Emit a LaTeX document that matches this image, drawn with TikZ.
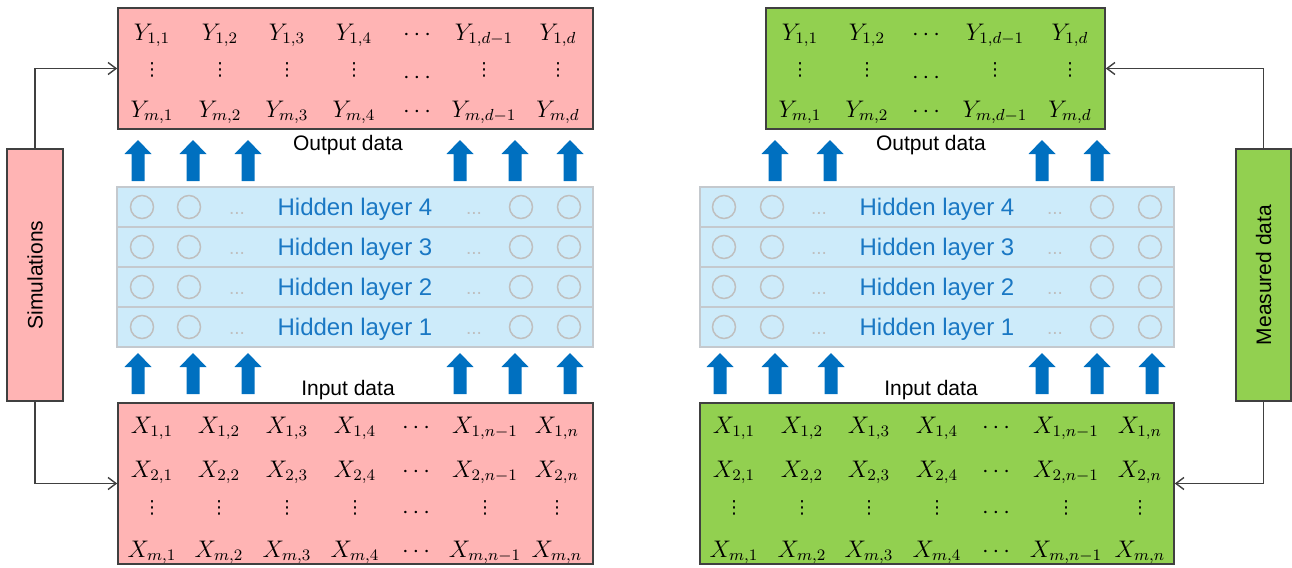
\documentclass[tikz,border=0pt]{standalone}
\usepackage[no-math]{fontspec}
\usepackage{amsmath}
\newfontfamily\labelfont{Liberation Sans}
\newfontfamily\dotfont{DejaVu Sans}
\usetikzlibrary{arrows.meta}

\definecolor{pinkfill}{HTML}{FFB4B4}
\definecolor{greenfill}{HTML}{92D050}
\definecolor{layerfill}{HTML}{CDEBFA}
\definecolor{layerline}{HTML}{C4C9CE}
\definecolor{arrowblue}{HTML}{0070C0}
\definecolor{layertext}{HTML}{1A78C4}
\definecolor{neurongray}{HTML}{BFBFBF}
\definecolor{edgegray}{HTML}{404040}

\tikzset{
  databox/.style={draw=edgegray, line width=0.8pt, inner sep=0pt},
  sidebox/.style={draw=edgegray, line width=0.8pt, inner sep=0pt,
    minimum height=126pt},
  sidelabel/.style={font=\labelfont\fontsize{10.5}{12}\selectfont, inner sep=0pt},
  cell/.style={anchor=base, inner sep=0pt, font=\fontsize{12}{14}\selectfont},
  vcell/.style={anchor=center, inner sep=0pt, font=\dotfont\fontsize{9}{10}\selectfont},
  layerrow/.style={draw=layerline, fill=layerfill, line width=0.8pt,
    minimum width=238pt, minimum height=20pt, inner sep=0pt},
  layerlabel/.style={anchor=base, inner sep=0pt, text=layertext,
    font=\labelfont\fontsize{12}{14}\selectfont},
  neuron/.style={circle, draw=neurongray, line width=0.75pt,
    minimum size=11.5pt, inner sep=0pt},
  hdots/.style={anchor=base, inner sep=0pt, text=neurongray,
    font=\labelfont\fontsize{9.5}{10}\selectfont},
  datalabel/.style={anchor=base, inner sep=0pt,
    font=\labelfont\fontsize{10.5}{12}\selectfont},
  conn/.style={draw=edgegray, line width=0.7pt,
    -{Straight Barb[length=4pt,width=6pt]}},
  blockup/.pic={
    \fill[arrowblue] (-6.5,0) -- (-6.5,-27) -- (-13.5,-27) -- (0,-41)
      -- (13.5,-27) -- (6.5,-27) -- (6.5,0) -- cycle;
  }
}

\begin{document}
\begin{tikzpicture}[x=0.5pt,y=-0.5pt]
\useasboundingbox (0,0) rectangle (1292,568);

% ---------------- left network: simulations ----------------
\node[sidebox, fill=pinkfill, minimum width=28pt] (sim) at (35,275) {};
\node[sidelabel, rotate=90] (simlabel) at (sim.center) {Simulations};

\node[databox, fill=pinkfill, minimum width=237.5pt, minimum height=60.5pt]
  (ysim) at (355.5,68.5) {};
\node[databox, fill=pinkfill, minimum width=237.5pt, minimum height=80.5pt]
  (xsim) at (355.5,483.5) {};

\draw[conn] (sim.north) |- (ysim.west);
\draw[conn] (sim.south) |- (xsim.west);

% output matrix
\foreach \cx/\txt [count=\i] in
  {152/{Y_{1,1}},220/{Y_{1,2}},287/{Y_{1,3}},354/{Y_{1,4}},
   419/{\cdots},484/{Y_{1,d-1}},558/{Y_{1,d}}}
  \node[cell] (ysa\i) at (\cx,40) {$\txt$};
\foreach \cx [count=\i] in {152,220,287,354,484,558}
  \node[vcell] (ysb\i) at (\cx,70) {⋮};
\node[cell] (ysbdots) at (419,83) {$\cdots$};
\foreach \cx/\txt [count=\i] in
  {152/{Y_{m,1}},220/{Y_{m,2}},287/{Y_{m,3}},354/{Y_{m,4}},
   419/{\cdots},484/{Y_{m,d-1}},558/{Y_{m,d}}}
  \node[cell] (ysc\i) at (\cx,117) {$\txt$};

% input matrix
\foreach \cx/\txt [count=\i] in
  {152/{X_{1,1}},219/{X_{1,2}},287/{X_{1,3}},355/{X_{1,4}},
   418/{\cdots},485/{X_{1,n-1}},557/{X_{1,n}}}
  \node[cell] (xsa\i) at (\cx,433) {$\txt$};
\foreach \cx/\txt [count=\i] in
  {152/{X_{2,1}},219/{X_{2,2}},287/{X_{2,3}},355/{X_{2,4}},
   418/{\cdots},485/{X_{2,n-1}},557/{X_{2,n}}}
  \node[cell] (xsb\i) at (\cx,477) {$\txt$};
\foreach \cx [count=\i] in {152,219,287,355,485,557}
  \node[vcell] (xsc\i) at (\cx,508) {⋮};
\node[cell] (xscdots) at (418,518) {$\cdots$};
\foreach \cx/\txt [count=\i] in
  {152/{X_{m,1}},219/{X_{m,2}},287/{X_{m,3}},355/{X_{m,4}},
   418/{\cdots},485/{X_{m,n-1}},557/{X_{m,n}}}
  \node[cell] (xsd\i) at (\cx,557) {$\txt$};

% hidden layers
\foreach \k/\cy in {4/207,3/247,2/287,1/327} {
  \node[layerrow] (lrow\k) at (355,\cy) {};
  \node[neuron] (ln\k a) at (142,\cy) {};
  \node[neuron] (ln\k b) at (189,\cy) {};
  \node[hdots] (ld\k a) at (237,\cy+7) {...};
  \node[layerlabel] (ll\k) at (355,\cy+8) {Hidden layer \k};
  \node[hdots] (ld\k b) at (474,\cy+7) {...};
  \node[neuron] (ln\k c) at (521,\cy) {};
  \node[neuron] (ln\k d) at (569,\cy) {};
}

\node[datalabel] (lout) at (348,150) {Output data};
\node[datalabel] (lin) at (348,395) {Input data};

\foreach \ax in {138,193,248,460,515,570} {
  \pic at (\ax,181) {blockup};
  \pic at (\ax,394) {blockup};
}

% ---------------- right network: measured data ----------------
\node[sidebox, fill=greenfill, minimum width=27.5pt] (meas) at (1263.5,275) {};
\node[sidelabel, rotate=90] (measlabel) at (meas.center) {Measured data};

\node[databox, fill=greenfill, minimum width=169.5pt, minimum height=60.5pt]
  (ymeas) at (935.5,68.5) {};
\node[databox, fill=greenfill, minimum width=237pt, minimum height=80.5pt]
  (xmeas) at (937,483.5) {};

\draw[conn] (meas.north) |- (ymeas.east);
\draw[conn] (meas.south) |- (xmeas.east);

% output matrix
\foreach \cx/\txt [count=\i] in
  {800/{Y_{1,1}},867/{Y_{1,2}},928/{\cdots},995/{Y_{1,d-1}},1070/{Y_{1,d}}}
  \node[cell] (yma\i) at (\cx,40) {$\txt$};
\foreach \cx [count=\i] in {800,867,995,1070}
  \node[vcell] (ymb\i) at (\cx,70) {⋮};
\node[cell] (ymbdots) at (928,83) {$\cdots$};
\foreach \cx/\txt [count=\i] in
  {800/{Y_{m,1}},867/{Y_{m,2}},928/{\cdots},995/{Y_{m,d-1}},1070/{Y_{m,d}}}
  \node[cell] (ymc\i) at (\cx,117) {$\txt$};

% input matrix
\foreach \cx/\txt [count=\i] in
  {734/{X_{1,1}},802/{X_{1,2}},869/{X_{1,3}},937/{X_{1,4}},
   998/{\cdots},1066/{X_{1,n-1}},1140/{X_{1,n}}}
  \node[cell] (xma\i) at (\cx,433) {$\txt$};
\foreach \cx/\txt [count=\i] in
  {734/{X_{2,1}},802/{X_{2,2}},869/{X_{2,3}},937/{X_{2,4}},
   998/{\cdots},1066/{X_{2,n-1}},1140/{X_{2,n}}}
  \node[cell] (xmb\i) at (\cx,477) {$\txt$};
\foreach \cx [count=\i] in {734,802,869,937,1066,1140}
  \node[vcell] (xmc\i) at (\cx,508) {⋮};
\node[cell] (xmcdots) at (998,518) {$\cdots$};
\foreach \cx/\txt [count=\i] in
  {734/{X_{m,1}},802/{X_{m,2}},869/{X_{m,3}},937/{X_{m,4}},
   998/{\cdots},1066/{X_{m,n-1}},1140/{X_{m,n}}}
  \node[cell] (xmd\i) at (\cx,557) {$\txt$};

% hidden layers
\foreach \k/\cy in {4/207,3/247,2/287,1/327} {
  \node[layerrow, minimum width=237pt] (rrow\k) at (937,\cy) {};
  \node[neuron] (rn\k a) at (724,\cy) {};
  \node[neuron] (rn\k b) at (772,\cy) {};
  \node[hdots] (rd\k a) at (819,\cy+7) {...};
  \node[layerlabel] (rl\k) at (937,\cy+8) {Hidden layer \k};
  \node[hdots] (rd\k b) at (1055,\cy+7) {...};
  \node[neuron] (rn\k c) at (1102,\cy) {};
  \node[neuron] (rn\k d) at (1150,\cy) {};
}

\node[datalabel] (rout) at (931,150) {Output data};
\node[datalabel] (rin) at (931,395) {Input data};

\foreach \ax in {775,830,1042,1097}
  \pic at (\ax,181) {blockup};
\foreach \ax in {720,775,831,1042,1097,1152}
  \pic at (\ax,394) {blockup};

\end{tikzpicture}
\end{document}
